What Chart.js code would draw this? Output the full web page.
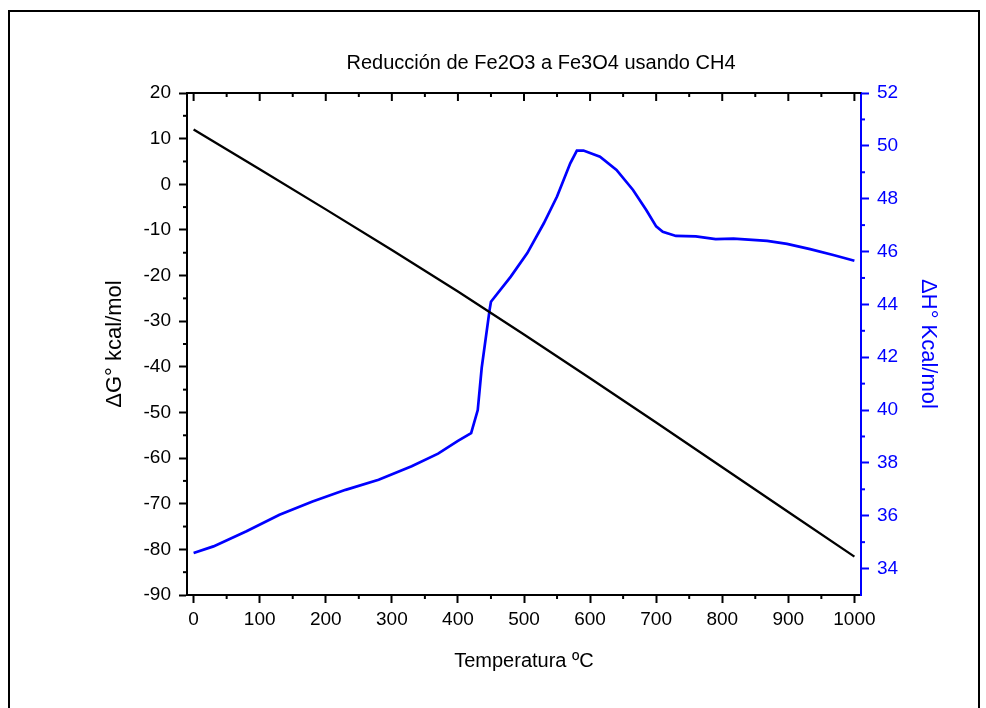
<!DOCTYPE html>
<html><head><meta charset="utf-8">
<script src="https://cdn.jsdelivr.net/npm/chart.js@4.4.0/dist/chart.umd.min.js"></script>
<style>html,body{margin:0;padding:0;background:#fff}#wrap{width:986px;height:708px;position:relative}</style>
</head><body><div id="wrap"><canvas id="c"></canvas></div>
<script>
// ---- data ----
const tempG  = [0, 100, 200, 300, 400, 500, 600, 700, 800, 900, 1000];
const deltaG = [12.0, 3.3, -5.5, -14.4, -23.5, -32.9, -42.5, -52.2, -62.0, -71.8, -81.6];

const tempH  = [0, 30, 80, 130, 180, 230, 280, 330, 370, 400, 420, 430, 436, 448, 450, 480, 505, 530, 550, 570, 580, 590, 615, 640, 665, 685, 700, 710, 730, 760, 790, 817, 868, 898, 933, 968, 1000];
const deltaH = [34.59, 34.84, 35.41, 36.04, 36.54, 36.98, 37.36, 37.87, 38.35, 38.83, 39.13, 40.0, 41.6, 43.8, 44.1, 45.05, 45.94, 47.07, 48.08, 49.34, 49.82, 49.82, 49.59, 49.09, 48.33, 47.57, 46.95, 46.75, 46.59, 46.57, 46.47, 46.49, 46.40, 46.29, 46.09, 45.87, 45.65];

const xTicks = [0, 100, 200, 300, 400, 500, 600, 700, 800, 900, 1000];
const xMinor = [50, 150, 250, 350, 450, 550, 650, 750, 850, 950];
const gTicks = [20, 10, 0, -10, -20, -30, -40, -50, -60, -70, -80, -90];
const gMinor = [15, 5, -5, -15, -25, -35, -45, -55, -65, -75, -85];
const hTicks = [34, 36, 38, 40, 42, 44, 46, 48, 50, 52];
const hMinor = [35, 37, 39, 41, 43, 45, 47, 49, 51];

const titleText = 'Reducción de Fe2O3 a Fe3O4 usando CH4';
const xTitle = 'Temperatura ºC';
const gTitle = 'ΔG° kcal/mol';
const hTitle = 'ΔH° Kcal/mol';

const FONT = "'Liberation Sans', Arial, sans-serif";
const BLUE = '#0000ff';

const frame = {
  id: 'frame',
  beforeDraw(chart) {
    const ctx = chart.ctx;
    ctx.save();
    ctx.fillStyle = '#fff';
    ctx.fillRect(0, 0, chart.width, chart.height);
    ctx.strokeStyle = '#000';
    ctx.lineWidth = 2;
    ctx.strokeRect(9, 11, 970, 720);
    ctx.restore();
  }
};

const minorTicks = {
  id: 'minorTicks',
  afterDraw(chart) {
    const {ctx, chartArea: a, scales} = chart;
    const x = scales.x, yG = scales.yG, yH = scales.yH;
    const line = (x1, y1, x2, y2) => { ctx.beginPath(); ctx.moveTo(x1, y1); ctx.lineTo(x2, y2); ctx.stroke(); };
    ctx.save();
    ctx.lineWidth = 2;
    ctx.strokeStyle = '#000';
    line(a.left - 1, a.top, a.right, a.top);
    xTicks.forEach(v => { const p = x.getPixelForValue(v); line(p, a.top, p, a.top + 8); });
    xMinor.forEach(v => { const p = x.getPixelForValue(v); line(p, a.top, p, a.top + 4); line(p, a.bottom, p, a.bottom + 4); });
    gMinor.forEach(v => { const p = yG.getPixelForValue(v); line(a.left - 4, p, a.left, p); });
    ctx.strokeStyle = BLUE;
    hMinor.forEach(v => { const p = yH.getPixelForValue(v); line(a.right, p, a.right + 4, p); });
    ctx.restore();
  }
};

const plain = v => String(v);

new Chart(document.getElementById('c'), {
  type: 'line',
  data: {
    datasets: [
      {
        label: 'ΔG',
        data: tempG.map((t, i) => ({x: t, y: deltaG[i]})),
        borderColor: '#000', borderWidth: 2.3, pointRadius: 0, tension: 0, yAxisID: 'yG', fill: false
      },
      {
        label: 'ΔH',
        data: tempH.map((t, i) => ({x: t, y: deltaH[i]})),
        borderColor: BLUE, borderWidth: 2.7, pointRadius: 0, tension: 0, yAxisID: 'yH', fill: false
      }
    ]
  },
  options: {
    responsive: true,
    maintainAspectRatio: false,
    animation: false,
    layout: {padding: {left: 96, right: 0, top: 0, bottom: 0}},
    plugins: {
      legend: {display: false},
      tooltip: {enabled: false},
      title: {
        display: true, text: titleText, color: '#000',
        font: {family: FONT, size: 20, weight: 'normal', lineHeight: 1.2},
        padding: {top: 51, bottom: 18}
      }
    },
    scales: {
      x: {
        type: 'linear', position: 'bottom', min: -10, max: 1010,
        afterBuildTicks: s => { s.ticks = xTicks.map(v => ({value: v})); },
        afterFit: s => { s.height = 113; },
        grid: {display: true, drawOnChartArea: false, drawTicks: true, tickLength: 8, tickWidth: 2, tickColor: '#000'},
        border: {display: true, color: '#000', width: 2},
        ticks: {color: '#000', font: {family: FONT, size: 19}, padding: 5, maxRotation: 0, autoSkip: false, callback: plain},
        title: {display: true, text: xTitle, color: '#000', font: {family: FONT, size: 20, lineHeight: 1.2}, padding: {top: 0, bottom: 35}}
      },
      yG: {
        type: 'linear', position: 'left', min: -90, max: 20,
        afterBuildTicks: s => { s.ticks = gTicks.map(v => ({value: v})); },
        afterFit: s => { s.width = 91; },
        grid: {display: true, drawOnChartArea: false, drawTicks: true, tickLength: 8, tickWidth: 2, tickColor: '#000'},
        border: {display: true, color: '#000', width: 2},
        ticks: {color: '#000', font: {family: FONT, size: 19}, padding: 8, autoSkip: false, callback: plain},
        title: {display: true, text: gTitle, color: '#000', font: {family: FONT, size: 22, lineHeight: 1.2}, padding: {top: 6, bottom: 0}}
      },
      yH: {
        type: 'linear', position: 'right', min: 33, max: 52,
        afterBuildTicks: s => { s.ticks = hTicks.map(v => ({value: v})); },
        afterFit: s => { s.width = 125; },
        grid: {display: true, drawOnChartArea: false, drawTicks: true, tickLength: 8, tickWidth: 2, tickColor: BLUE},
        border: {display: true, color: BLUE, width: 2},
        ticks: {color: BLUE, font: {family: FONT, size: 19}, padding: 8, autoSkip: false, callback: plain},
        title: {display: true, text: hTitle, color: BLUE, font: {family: FONT, size: 22, lineHeight: 1.2}, padding: {top: 45, bottom: 0}}
      }
    }
  },
  plugins: [frame, minorTicks]
});
</script>
</body></html>
